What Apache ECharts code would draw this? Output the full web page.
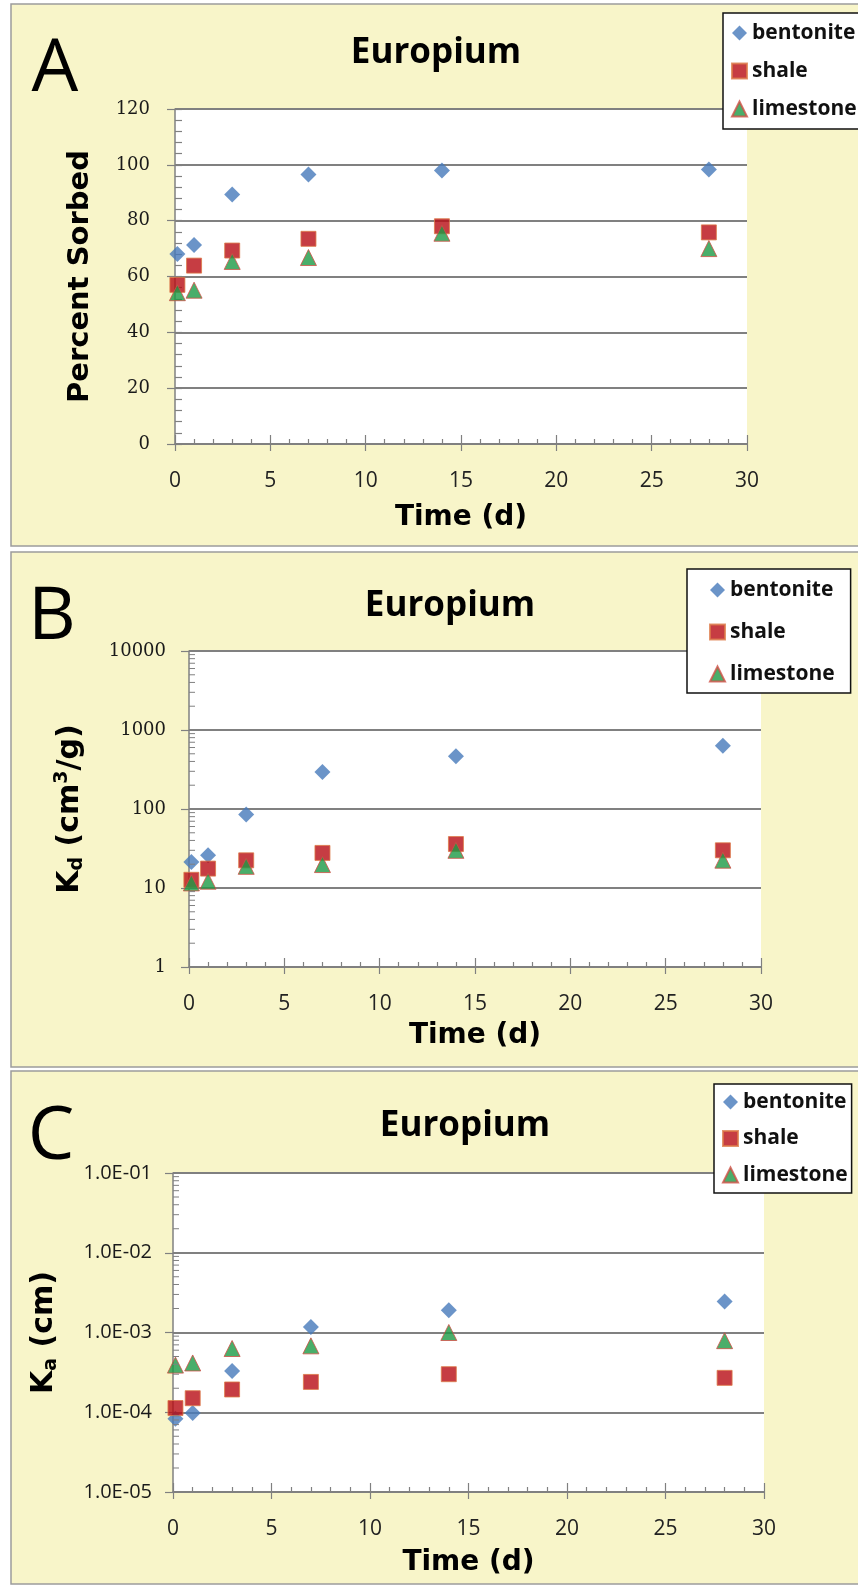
<!DOCTYPE html>
<html>
<head>
<meta charset="utf-8">
<script src="https://cdn.jsdelivr.net/npm/echarts@6/dist/echarts.min.js"></script>
<style>
  html, body { margin: 0; padding: 0; background: #ffffff; }
  #chart { width: 858px; height: 1587px; }
</style>
</head>
<body>
<div id="chart"></div>
<script>
// Sampling times (days)
const timeDays = [0.125, 1, 3, 7, 14, 28];
const seriesNames = ['bentonite', 'shale', 'limestone'];

// A: percent of europium sorbed
const sorbedBentonite = [68.1, 71.3, 89.4, 96.5, 98.0, 98.3];
const sorbedShale     = [57.0, 63.9, 69.3, 73.5, 78.0, 75.8];
const sorbedLimestone = [54.2, 55.1, 65.4, 66.8, 75.5, 70.0];

// B: distribution coefficient Kd (cm3/g)
const kdBentonite = [21.4, 26, 85, 294, 466, 630];
const kdShale     = [12.7, 17.6, 22.4, 27.8, 36, 30];
const kdLimestone = [11.6, 12.2, 18.8, 19.8, 30, 22.5];

// C: surface-area coefficient Ka (cm)
const kaBentonite = [8.3e-5, 9.8e-5, 3.3e-4, 1.17e-3, 1.9e-3, 2.45e-3];
const kaShale     = [1.13e-4, 1.5e-4, 1.93e-4, 2.4e-4, 3.0e-4, 2.7e-4];
const kaLimestone = [3.9e-4, 4.15e-4, 6.3e-4, 6.8e-4, 1.0e-3, 7.9e-4];

// Tick labels
const xTickLabels = ['0', '5', '10', '15', '20', '25', '30'];
const yTickLabelsA = ['0', '20', '40', '60', '80', '100', '120'];
const yTickLabelsB = ['1', '10', '100', '1000', '10000'];
const yTickLabelsC = ['1.0E-05', '1.0E-04', '1.0E-03', '1.0E-02', '1.0E-01'];

const AXIS_GRAY = '#808080';
const PANEL_FILL = '#F8F5C9';

const markerStyles = {
  bentonite: { symbol: 'diamond', symbolSize: [16, 16], itemStyle: { color: '#4679BA' } },
  shale:     { symbol: 'rect', symbolSize: 15, itemStyle: { color: '#B80D14', borderColor: '#DD7A48', borderWidth: 1 } },
  limestone: { symbol: 'triangle', symbolSize: 16, itemStyle: { color: '#1C9A45', borderColor: '#CF5046', borderWidth: 1 } }
};

function pairs(ys) { return timeDays.map((t, i) => [t, ys[i]]); }

function scatter(name, ys, xi, yi) {
  return Object.assign({
    type: 'scatter', name: name, xAxisIndex: xi, yAxisIndex: yi,
    data: pairs(ys), silent: true, animation: false
  }, markerStyles[name]);
}

// Log-scale minor ticks (2..9 x 10^n), drawn on the inside of the y axis line
function logMinor(loExp, hiExp) {
  const out = [];
  for (let e = loExp; e < hiExp; e++) {
    for (let k = 2; k <= 9; k++) out.push([0, k * Math.pow(10, e)]);
  }
  return out;
}
function minorTickSeries(xi, yi, loExp, hiExp) {
  return {
    type: 'custom', xAxisIndex: xi, yAxisIndex: yi, silent: true, clip: false, z: 4,
    animation: false,
    data: logMinor(loExp, hiExp),
    encode: { x: 0, y: 1 },
    renderItem: function (params, api) {
      const p = api.coord([api.value(0), api.value(1)]);
      return { type: 'line', shape: { x1: p[0], y1: p[1], x2: p[0] + 6, y2: p[1] },
               style: { stroke: AXIS_GRAY, lineWidth: 1 } };
    }
  };
}

const labelFont = { fontFamily: 'Open Sans', fontSize: 21, color: '#222' };
const serifFont = { fontFamily: 'DejaVu Serif', fontSize: 18, color: '#1a1a1a' };
function yNameStyle(size) {
  const base = { fontFamily: 'DejaVu Sans', fontWeight: 'bold', color: '#000' };
  return Object.assign({ fontSize: size, rich: {
    m: Object.assign({ fontSize: size }, base),
    s: Object.assign({ fontSize: 19, padding: [15, 0, 0, 0] }, base),
    p: Object.assign({ fontSize: 19, padding: [0, 0, 15, 0] }, base)
  } }, base);
}

function timeAxis(gi, nameGap) {
  return {
    gridIndex: gi, type: 'value', position: 'bottom', min: 0, max: 30, interval: 5,
    axisLine: { show: true, lineStyle: { color: AXIS_GRAY, width: 1.5 } },
    axisTick: { show: true, inside: false, length: 7, lineStyle: { color: AXIS_GRAY, width: 1.2 } },
    axisLabel: Object.assign({ margin: 27, formatter: v => xTickLabels[Math.round(v / 5)] }, labelFont),
    splitLine: { show: false },
    name: 'Time (d)', nameLocation: 'middle', nameGap: nameGap,
    nameTextStyle: { fontFamily: 'DejaVu Sans', fontWeight: 'bold', fontSize: 28, color: '#000' }
  };
}
// Inner major ticks plus 1-day minor ticks
function timeAxisInner(gi) {
  return {
    gridIndex: gi, type: 'value', position: 'bottom', min: 0, max: 30, interval: 5,
    axisLine: { show: false }, axisLabel: { show: false }, splitLine: { show: false },
    axisTick: { show: true, inside: true, length: 9, lineStyle: { color: AXIS_GRAY, width: 1.2 } },
    minorTick: { show: true, splitNumber: 5, length: 5, lineStyle: { color: AXIS_GRAY, width: 1.2 } }
  };
}

const textCommon = { fill: '#000', textAlign: 'center', textVerticalAlign: 'middle' };

const option = {
  backgroundColor: '#ffffff',
  animation: false,
  graphic: [
    { type: 'rect', z: -10, shape: { x: 11, y: 4, width: 860, height: 542 },
      style: { fill: PANEL_FILL, stroke: '#9c9c9c', lineWidth: 1.5 } },
    { type: 'rect', z: -10, shape: { x: 11, y: 552, width: 860, height: 515 },
      style: { fill: PANEL_FILL, stroke: '#9c9c9c', lineWidth: 1.5 } },
    { type: 'rect', z: -10, shape: { x: 11, y: 1071, width: 860, height: 513 },
      style: { fill: PANEL_FILL, stroke: '#9c9c9c', lineWidth: 1.5 } },
    { type: 'text', z: 10, x: 55, y: 70, style: Object.assign({ text: 'A', fontFamily: 'Open Sans', fontSize: 74 }, textCommon) },
    { type: 'text', z: 10, x: 52, y: 618, style: Object.assign({ text: 'B', fontFamily: 'Open Sans', fontSize: 74 }, textCommon) },
    { type: 'text', z: 10, x: 51, y: 1138, style: Object.assign({ text: 'C', fontFamily: 'Open Sans', fontSize: 74 }, textCommon) },
    { type: 'text', z: 10, x: 436, y: 53, style: Object.assign({ text: 'Europium', fontFamily: 'Open Sans', fontWeight: 'bold', fontSize: 35 }, textCommon) },
    { type: 'text', z: 10, x: 450, y: 606, style: Object.assign({ text: 'Europium', fontFamily: 'Open Sans', fontWeight: 'bold', fontSize: 35 }, textCommon) },
    { type: 'text', z: 10, x: 465, y: 1126, style: Object.assign({ text: 'Europium', fontFamily: 'Open Sans', fontWeight: 'bold', fontSize: 35 }, textCommon) }
  ],
  grid: [
    { left: 175, top: 109, width: 572, height: 335, show: true, backgroundColor: '#ffffff', borderWidth: 0 },
    { left: 189, top: 651, width: 572, height: 316, show: true, backgroundColor: '#ffffff', borderWidth: 0 },
    { left: 173, top: 1173, width: 591, height: 319, show: true, backgroundColor: '#ffffff', borderWidth: 0 }
  ],
  legend: [
    { orient: 'vertical', left: 723, top: 13, padding: [9, 6, 9, 8], itemGap: 16,
      itemWidth: 15, itemHeight: 15, backgroundColor: '#ffffff', borderColor: '#111', borderWidth: 1.5,
      selectedMode: false, data: seriesNames,
      textStyle: { fontFamily: 'Open Sans', fontWeight: 'bold', fontSize: 21, lineHeight: 22, color: '#111' } },
    { orient: 'vertical', left: 687, top: 569, padding: [10, 16, 8, 22], itemGap: 20,
      itemWidth: 15, itemHeight: 15, backgroundColor: '#ffffff', borderColor: '#111', borderWidth: 1.5,
      selectedMode: false, data: seriesNames,
      textStyle: { fontFamily: 'Open Sans', fontWeight: 'bold', fontSize: 21, lineHeight: 22, color: '#111' } },
    { orient: 'vertical', left: 714, top: 1084, padding: [7, 4, 7, 8], itemGap: 14.5,
      itemWidth: 15, itemHeight: 15, backgroundColor: '#ffffff', borderColor: '#111', borderWidth: 1.5,
      selectedMode: false, data: seriesNames,
      textStyle: { fontFamily: 'Open Sans', fontWeight: 'bold', fontSize: 21, lineHeight: 22, color: '#111' } }
  ],
  xAxis: [
    timeAxis(0, 60), timeAxisInner(0),
    timeAxis(1, 55), timeAxisInner(1),
    timeAxis(2, 57), timeAxisInner(2)
  ],
  yAxis: [
    { // A: linear percent axis
      gridIndex: 0, type: 'value', position: 'left', min: 0, max: 120, interval: 20,
      axisLine: { show: true, lineStyle: { color: AXIS_GRAY, width: 1.5 } },
      axisTick: { show: true, inside: false, length: 8, lineStyle: { color: AXIS_GRAY, width: 1.2 } },
      axisLabel: Object.assign({ margin: 25, formatter: v => yTickLabelsA[Math.round(v / 20)] }, serifFont),
      splitLine: { show: true, lineStyle: { color: AXIS_GRAY, width: 2 } },
      name: 'Percent Sorbed', nameLocation: 'middle', nameGap: 80, nameTextStyle: yNameStyle(29)
    },
    { // A: inner minor ticks
      gridIndex: 0, type: 'value', position: 'left', min: 0, max: 120, interval: 20,
      axisLine: { show: false }, axisLabel: { show: false }, splitLine: { show: false },
      axisTick: { show: true, inside: true, length: 7, lineStyle: { color: AXIS_GRAY, width: 1.2 } },
      minorTick: { show: true, splitNumber: 5, length: 7, lineStyle: { color: AXIS_GRAY, width: 1.2 } }
    },
    { // B: log Kd axis
      gridIndex: 1, type: 'log', logBase: 10, position: 'left', min: 1, max: 10000,
      axisLine: { show: true, lineStyle: { color: AXIS_GRAY, width: 1.5 } },
      axisTick: { show: true, inside: false, length: 8, lineStyle: { color: AXIS_GRAY, width: 1.2 } },
      axisLabel: Object.assign({ margin: 23, formatter: v => yTickLabelsB[Math.round(Math.log10(v))] }, serifFont),
      splitLine: { show: true, lineStyle: { color: AXIS_GRAY, width: 2 } },
      name: '{m|K}{s|d}{m| (cm}{p|3}{m|/g)}', nameLocation: 'middle', nameGap: 102, nameTextStyle: yNameStyle(30)
    },
    { // C: log Ka axis
      gridIndex: 2, type: 'log', logBase: 10, position: 'left', min: 1e-5, max: 1e-1,
      axisLine: { show: true, lineStyle: { color: AXIS_GRAY, width: 1.5 } },
      axisTick: { show: true, inside: false, length: 8, lineStyle: { color: AXIS_GRAY, width: 1.2 } },
      axisLabel: { margin: 21, fontFamily: 'Open Sans', fontSize: 20, color: '#1a1a1a',
                   formatter: v => yTickLabelsC[Math.round(Math.log10(v)) + 5] },
      splitLine: { show: true, lineStyle: { color: AXIS_GRAY, width: 2 } },
      name: '{m|K}{s|a}{m| (cm)}', nameLocation: 'middle', nameGap: 112, nameTextStyle: yNameStyle(30)
    }
  ],
  series: [
    scatter('bentonite', sorbedBentonite, 0, 0),
    scatter('shale', sorbedShale, 0, 0),
    scatter('limestone', sorbedLimestone, 0, 0),
    scatter('bentonite', kdBentonite, 2, 2),
    scatter('shale', kdShale, 2, 2),
    scatter('limestone', kdLimestone, 2, 2),
    scatter('bentonite', kaBentonite, 4, 3),
    scatter('shale', kaShale, 4, 3),
    scatter('limestone', kaLimestone, 4, 3),
    minorTickSeries(2, 2, 0, 4),
    minorTickSeries(4, 3, -5, -1)
  ]
};

const chart = echarts.init(document.getElementById('chart'), null, { renderer: 'canvas' });
chart.setOption(option);
</script>
</body>
</html>
